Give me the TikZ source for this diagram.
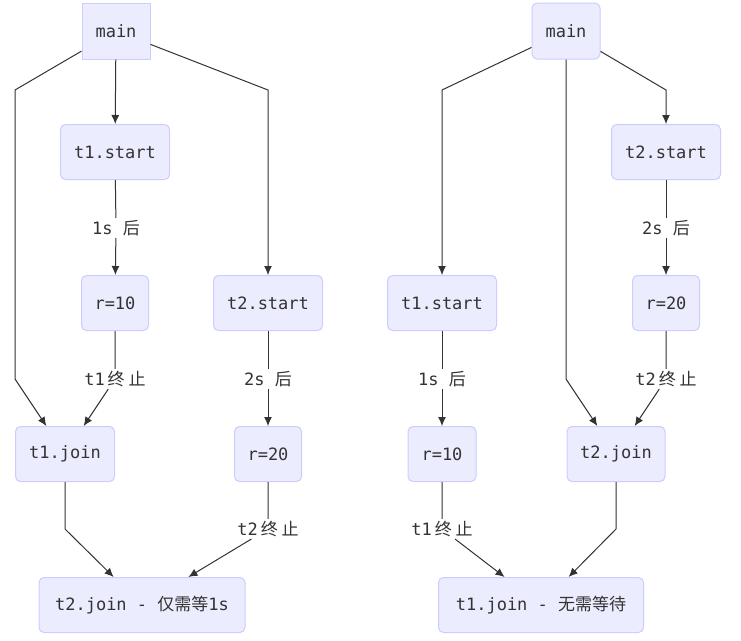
\documentclass[tikz,border=0pt]{standalone}
\usepackage{fontspec}
\setmonofont{DejaVu Sans Mono}
\newfontfamily\cjk{Noto Sans CJK SC}
\usetikzlibrary{arrows.meta}
\definecolor{boxfill}{HTML}{ECECFF}
\definecolor{boxline}{HTML}{CCCCFF}
\definecolor{wire}{HTML}{333333}
\tikzset{
  stepbox/.style={draw=boxline, fill=boxfill, line width=1pt, rounded corners=5pt,
    minimum height=55pt, inner xsep=13pt, text=wire,
    font=\ttfamily\fontsize{17}{20}\selectfont},
  flow/.style={draw=wire, line width=1pt, -{Latex[length=9pt,width=8pt]}},
  wirelabel/.style={fill=white, inner sep=2pt, text=wire,
    font=\ttfamily\fontsize{17}{20}\selectfont}
}
\begin{document}
\begin{tikzpicture}
% one pixel of the reference = 1pt, y runs downwards
\def\px{1pt}
\begin{scope}[x=\px, y=-\px]
  \useasboundingbox (0,0) rectangle (741,640);
  % Left graph: t1 then t2 joined
  \node[stepbox, rounded corners=0pt, minimum width=68pt, minimum height=56pt] (lmain) at (116,31) {main};
  \node[stepbox, minimum width=109pt] (lstartA) at (115,152) {t1.start};
  \node[stepbox, minimum width=67pt] (lresA) at (115,303) {r=10};
  \node[stepbox, minimum width=109pt] (lstartB) at (268,303) {t2.start};
  \node[stepbox, minimum width=99pt] (ljoinA) at (65,454) {t1.join};
  \node[stepbox, minimum width=67pt] (lresB) at (268,454) {r=20};
  \node[stepbox, minimum width=206pt] (ljoinB) at (142,605) {t2.join - {\cjk 仅需等}1s};
  % bend points
  \coordinate (lbendA) at (15,90);
  \coordinate (lbendB) at (15,379);
  \coordinate (lbendC) at (268,90);
  \coordinate (lbendD) at (65,529);
  \node[wirelabel] (lwaitA) at (116,228) {1s {\cjk 后}};
  \node[wirelabel] (lendA) at (115,379) {t1{\cjk\,终\ 止}};
  \node[wirelabel] (lwaitB) at (268,379) {2s {\cjk 后}};
  \node[wirelabel] (lendB) at (268,529) {t2{\cjk\,终\ 止}};
  % connectors
  \draw[flow] (lmain) -- (lbendA) -- (lbendB) -- (ljoinA);
  \draw[flow] (lmain) -- (lstartA);
  \draw[flow] (lmain) -- (lbendC) -- (lstartB);
  \draw[flow] (lstartA) -- (lwaitA) -- (lresA);
  \draw[flow] (lresA) -- (lendA) -- (ljoinA);
  \draw[flow] (lstartB) -- (lwaitB) -- (lresB);
  \draw[flow] (ljoinA) -- (lbendD) -- (ljoinB);
  \draw[flow] (lresB) -- (lendB) -- (ljoinB);
  % Right graph: t2 then t1 joined
  \node[stepbox, minimum width=68pt, minimum height=56pt] (rmain) at (566,31) {main};
  \node[stepbox, minimum width=109pt] (rstartA) at (442,303) {t1.start};
  \node[stepbox, minimum width=109pt] (rstartB) at (666,152) {t2.start};
  \node[stepbox, minimum width=67pt] (rresB) at (666,303) {r=20};
  \node[stepbox, minimum width=68pt] (rresA) at (442,454) {r=10};
  \node[stepbox, minimum width=98pt] (rjoinB) at (616,454) {t2.join};
  \node[stepbox, minimum width=205pt] (rjoinA) at (541,605) {t1.join - {\cjk 无需等待}};
  % bend points
  \coordinate (rbendA) at (442,90);
  \coordinate (rbendB) at (566,379);
  \coordinate (rbendC) at (666,90);
  \coordinate (rbendD) at (616,529);
  \node[wirelabel] (rwaitB) at (666,228) {2s {\cjk 后}};
  \node[wirelabel] (rwaitA) at (442,379) {1s {\cjk 后}};
  \node[wirelabel] (rendB) at (666,379) {t2{\cjk\,终\ 止}};
  \node[wirelabel] (rendA) at (442,529) {t1{\cjk\,终\ 止}};
  % connectors
  \draw[flow] (rmain) -- (rbendA) -- (rstartA);
  \draw[flow] (rmain) -- (rbendB) -- (rjoinB);
  \draw[flow] (rmain) -- (rbendC) -- (rstartB);
  \draw[flow] (rstartB) -- (rwaitB) -- (rresB);
  \draw[flow] (rstartA) -- (rwaitA) -- (rresA);
  \draw[flow] (rresB) -- (rendB) -- (rjoinB);
  \draw[flow] (rresA) -- (rendA) -- (rjoinA);
  \draw[flow] (rjoinB) -- (rbendD) -- (rjoinA);
\end{scope}
\end{tikzpicture}
\end{document}
